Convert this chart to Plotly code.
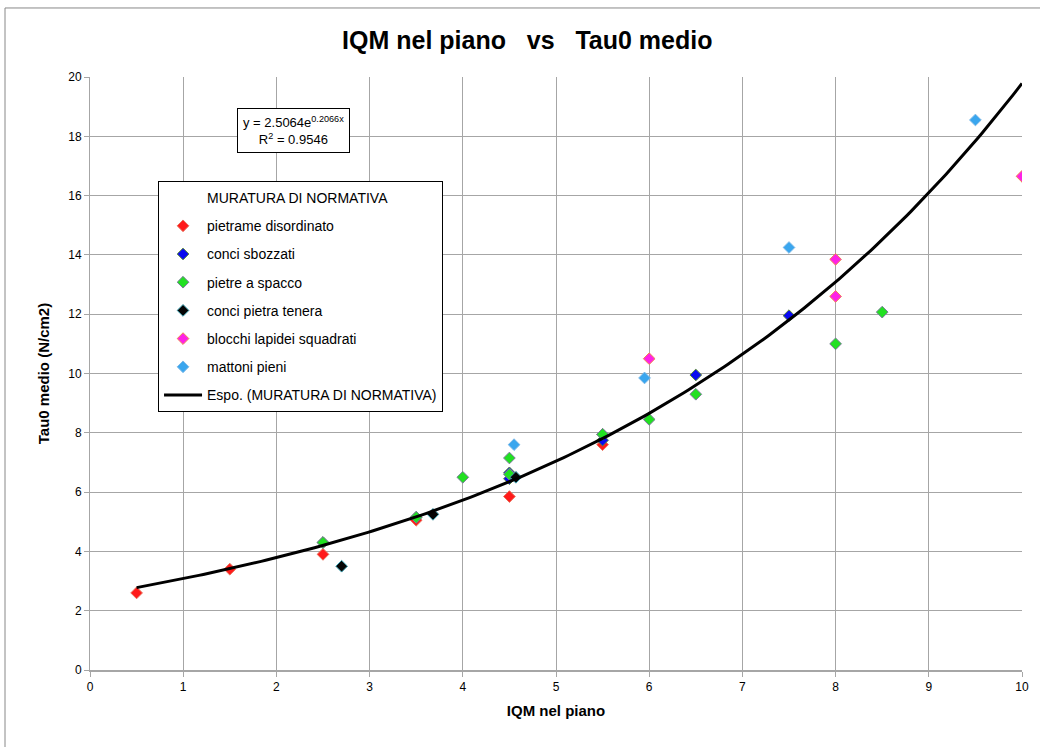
import numpy as np
import plotly.graph_objects as go

# ---- data ----
series_names = ["pietrame disordinato", "conci sbozzati", "pietre a spacco",
                "conci pietra tenera", "blocchi lapidei squadrati", "mattoni pieni"]
red_x = [0.5, 1.5, 2.5, 3.5, 4.5, 5.5]
red_y = [2.6, 3.4, 3.9, 5.05, 5.85, 7.6]
blue_x = [2.5, 3.5, 4.5, 4.5, 5.5, 5.5, 6.5, 7.5]
blue_y = [4.3, 5.15, 6.45, 6.65, 7.95, 7.75, 9.95, 11.95]
green_x = [2.5, 3.5, 4.0, 4.5, 4.5, 5.5, 6.0, 6.5, 8.0, 8.5]
green_y = [4.3, 5.15, 6.5, 7.15, 6.6, 7.95, 8.45, 9.3, 11.0, 12.07]
black_x = [2.7, 3.68, 4.57]
black_y = [3.5, 5.25, 6.5]
magenta_x = [6.0, 8.0, 8.0, 10.0]
magenta_y = [10.5, 13.85, 12.6, 16.65]
lightblue_x = [4.55, 5.95, 7.5, 9.5]
lightblue_y = [7.6, 9.85, 14.25, 18.55]

fit_a = 2.5064
fit_b = 0.2066
fit_r2 = 0.9546
fit_range = [0.5, 10.0]

x_ticks = list(range(0, 11))
y_ticks = list(range(0, 21, 2))

fill_colors = ["#FF1A1A", "#0A0AF0", "#22E022", "#050505", "#FF22E6", "#3AA6EE"]
edge_colors = ["#E8705A", "#5A8A3A", "#7A7A9A", "#3AA0B0", "#F08A50", "#7AB8E8"]

FONT = "Liberation Sans Narrow, Liberation Sans, Arial, sans-serif"

fig = go.Figure()

# series header entry (no visible marker)
fig.add_trace(go.Scatter(x=[None], y=[None], mode="markers", name="MURATURA DI NORMATIVA",
                         marker=dict(symbol="diamond", size=9, color="rgba(0,0,0,0)",
                                     line=dict(width=0)),
                         legendgroup="g0", showlegend=True))

data = [(red_x, red_y), (blue_x, blue_y), (green_x, green_y), (black_x, black_y),
        (magenta_x, magenta_y), (lightblue_x, lightblue_y)]
for i, ((xs, ys), nm) in enumerate(zip(data, series_names)):
    fig.add_trace(go.Scatter(x=xs, y=ys, mode="markers", name=nm,
                             marker=dict(symbol="diamond", size=9, color=fill_colors[i],
                                         line=dict(width=1, color=edge_colors[i])),
                             legendgroup="g%d" % (i + 1)))

fx = np.linspace(fit_range[0], fit_range[1], 200)
fy = fit_a * np.exp(fit_b * fx)
fig.add_trace(go.Scatter(x=fx, y=fy, mode="lines", name="Espo. (MURATURA DI NORMATIVA)",
                         line=dict(color="black", width=3), legendgroup="g7"))

grid = "#A6A6A6"
fig.update_layout(
    width=1040, height=747,
    margin=dict(l=90, r=18, t=77, b=77),
    paper_bgcolor="white", plot_bgcolor="white",
    font=dict(family=FONT, size=12, color="black"),
    title=dict(text="<b>IQM nel piano   vs   Tau0 medio</b>", x=0.507, xanchor="center",
               y=0.946, yanchor="middle", font=dict(size=25, family=FONT)),
    xaxis=dict(range=[0, 10], tickvals=x_ticks, showgrid=True, gridcolor=grid, gridwidth=1,
               zeroline=False, showline=True, linecolor=grid, linewidth=2,
               ticks="outside", ticklen=5, tickcolor=grid, tickfont=dict(size=12),
               title=dict(text="<b>IQM nel piano</b>", font=dict(size=15), standoff=12),
               mirror=False),
    yaxis=dict(range=[0, 20], tickvals=y_ticks, showgrid=True, gridcolor=grid, gridwidth=1,
               zeroline=False, showline=True, linecolor=grid, linewidth=1,
               ticks="outside", ticklen=5, tickcolor=grid, tickfont=dict(size=12),
               title=dict(text="<b>Tau0 medio (N/cm2)</b>", font=dict(size=15), standoff=14)),
    legend=dict(x=0.073, y=0.8246, xanchor="left", yanchor="top",
                bgcolor="white", bordercolor="black", borderwidth=1,
                font=dict(size=14, family=FONT), tracegroupgap=7,
                itemwidth=38),
    showlegend=True,
)

# equation box
fig.add_annotation(x=0.2185, y=0.9106, xref="paper", yref="paper",
                   xanchor="center", yanchor="middle",
                   text="y = 2.5064e<sup>0.2066x</sup><br>R<sup>2</sup> = 0.9546",
                   showarrow=False, bgcolor="white", bordercolor="black", borderwidth=1,
                   borderpad=5, font=dict(size=13, family=FONT), align="center")

# outer chart border (left and top)
fig.add_shape(type="line", xref="paper", yref="paper", x0=-0.0912, x1=-0.0912,
              y0=-0.2, y1=1.1164, line=dict(color="#888888", width=1))
fig.add_shape(type="line", xref="paper", yref="paper", x0=-0.0912, x1=1.05,
              y0=1.1164, y1=1.1164, line=dict(color="#888888", width=1))

fig.write_html("out.html")
